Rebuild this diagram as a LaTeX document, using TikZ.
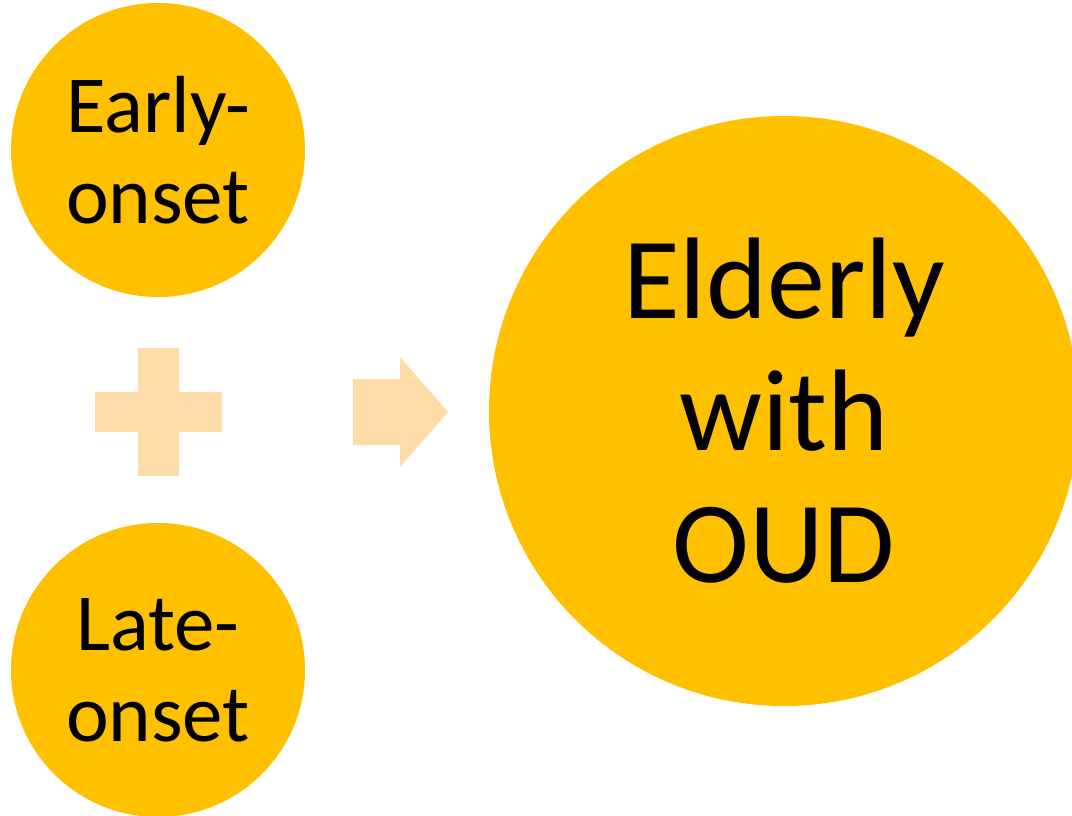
\documentclass[tikz,border=0pt]{standalone}
\usepackage{xcolor}
\usepackage{fontspec}
\setmainfont{Carlito}
\usepackage{tikz}

\definecolor{gold}{HTML}{FFC000}
\definecolor{paleorange}{HTML}{FFDBA8}

\begin{document}
\begin{tikzpicture}[x=1pt, y=-1pt,
        bubble/.style={circle, fill=gold, inner sep=0pt, align=center, text=black},
        smallbubble/.style={bubble, minimum size=294pt, font=\fontsize{81}{91}\selectfont},
        bigbubble/.style={bubble, minimum size=590pt, font=\fontsize{116}{132}\selectfont}]
        \clip (0, 0) rectangle (1072, 816);
        \fill[white] (0, 0) rectangle (1072, 816);

        \node[smallbubble] (early) at (158, 150) {Early-\\onset};
        \node[smallbubble] (late) at (158, 670) {Late-\\onset};
        \node[bigbubble] (elderly) at (784, 411) {Elderly\\with\\OUD};

        % plus sign
        \fill[paleorange] (138, 348) rectangle (179, 476);
        \fill[paleorange] (95, 392) rectangle (222, 432);

        % block arrow
        \fill[paleorange] (353, 379) -- (400, 379) -- (400, 357) -- (448, 412)
            -- (400, 467) -- (400, 445) -- (353, 445) -- cycle;
    \end{tikzpicture}
\end{document}
